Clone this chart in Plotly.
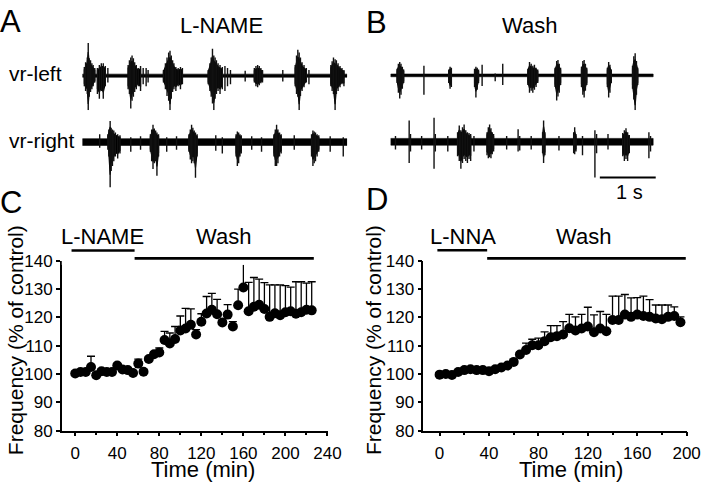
import plotly.graph_objects as go

# ---------------- Data: panel C (L-NAME) ----------------
c_time = [0, 5, 10, 15, 20, 25, 30, 35, 40, 45, 50, 55, 60, 65, 70, 75, 80, 85, 90, 95,
          100, 105, 110, 115, 120, 125, 130, 135, 140, 145, 150, 155, 160, 165, 170, 175,
          180, 185, 190, 195, 200, 205, 210, 215, 220, 225]
c_mean = [100.2, 100.7, 100.7, 102.5, 99.6, 101.0, 100.7, 100.7, 103.0, 101.6, 101.4, 100.4,
          103.7, 100.8, 105.3, 107.0, 107.6, 112.0, 110.8, 112.4, 115.4, 116.1, 117.4, 114.0,
          118.5, 121.4, 122.7, 121.1, 118.2, 121.0, 116.8, 124.3, 130.6, 122.2, 123.8, 124.5,
          123.0, 120.2, 121.5, 120.8, 121.8, 122.2, 121.3, 121.8, 122.7, 122.5]
c_sem = [0.8, 0.8, 0.8, 3.8, 0.8, 0.8, 0.8, 0.8, 0.8, 0.8, 0.8, 0.8,
         1.6, 0.8, 0.8, 0.8, 1.6, 3.1, 3.7, 4.4, 5.1, 7.1, 5.6, 1.7,
         2.8, 6.0, 5.8, 5.3, 0.9, 3.5, 1.7, 5.7, 9.1, 10.2, 10.3, 9.0,
         9.3, 11.3, 10.0, 10.7, 9.4, 8.5, 11.3, 10.8, 9.4, 10.1]
c_drug_period = [-3.5, 56.5]
c_wash_period = [56.5, 227]

# ---------------- Data: panel D (L-NNA) ----------------
d_time = [0, 5, 10, 15, 20, 25, 30, 35, 40, 45, 50, 55, 60, 65, 70, 75, 80, 85, 90, 95,
          100, 105, 110, 115, 120, 125, 130, 135, 140, 145, 150, 155, 160, 165, 170, 175,
          180, 185, 190, 195]
d_mean = [99.8, 100.0, 99.7, 100.7, 101.4, 101.7, 101.4, 101.4, 101.0, 101.7, 102.3, 103.0,
          104.3, 106.9, 108.5, 110.2, 110.2, 111.6, 113.0, 113.4, 114.0, 116.2, 115.4, 116.1,
          116.8, 114.8, 116.1, 115.1, 119.1, 119.1, 121.0, 120.2, 121.0, 120.5, 120.2, 119.6,
          119.4, 120.2, 120.5, 118.3]
d_sem = [0.6, 0.6, 0.6, 0.6, 0.6, 0.6, 0.6, 0.6, 0.6, 0.6, 0.6, 0.6,
         0.6, 0.8, 2.4, 2.1, 2.5, 3.3, 4.1, 3.7, 4.5, 4.9, 4.8, 5.0,
         6.8, 6.1, 6.0, 6.0, 8.4, 8.4, 7.1, 6.7, 6.0, 7.0, 6.1, 4.8,
         5.0, 4.2, 3.2, 1.9]
d_drug_period = [-1.8, 38.5]
d_wash_period = [38.5, 199.3]

# ---------------- Data: ventral-root recordings (time in ms, amplitude a.u.) ----------------
a_duration = 4739
a_left_t = [35, 58, 88, 105, 123, 146, 170, 193, 222, 269, 304, 339, 374, 410, 456,
            819, 842, 866, 889, 913, 936, 965, 1000, 1041, 1088, 1141, 1176,
            1451, 1486, 1515, 1544, 1568, 1591, 1615, 1638, 1673, 1714, 1755, 1790,
            2252, 2282, 2305, 2328, 2352, 2375, 2399, 2428, 2463, 2504, 2551, 2597, 2650,
            2913, 3077, 3106, 3136, 3165, 3194, 3223, 3586,
            3808, 3832, 3855, 3879, 3902, 3931, 3966, 4007, 4054,
            4446, 4469, 4493, 4522, 4545, 4575, 4610, 4645, 4680]
a_left_up = [9, 14, 19, 34, 18, 16, 13, 11, 8, 8, 11, 13, 13, 10, 8,
             11, 16, 19, 21, 18, 14, 11, 8, 10, 8, 8, 6,
             6, 13, 19, 24, 26, 21, 16, 13, 9, 8, 9, 8,
             6, 13, 19, 28, 21, 19, 16, 13, 11, 9, 10, 8, 6,
             5, 8, 10, 11, 10, 8, 6, 6,
             11, 21, 27, 24, 19, 14, 11, 8, 6,
             11, 15, 19, 17, 16, 13, 10, 8, 6]
a_left_dn = [-11, -16, -19, -41, -22, -17, -14, -11, -7, -19, -24, -16, -24, -11, -7,
             -14, -19, -34, -26, -22, -17, -14, -11, -16, -9, -11, -7,
             -7, -14, -21, -26, -41, -24, -17, -14, -16, -11, -14, -9,
             -9, -16, -22, -29, -39, -24, -19, -16, -19, -14, -16, -11, -9,
             -6, -7, -11, -12, -10, -8, -7, -6,
             -11, -19, -22, -41, -21, -16, -12, -7, -9,
             -11, -16, -19, -41, -19, -16, -12, -9, -11]

a_right_t = [456, 474, 497, 515, 538, 562, 591, 632, 673,
             1217, 1240, 1264, 1287, 1311, 1334, 1363,
             1907, 1931, 1954, 1977, 2001, 2024, 2053,
             2750, 2773, 2796, 2820, 2843,
             3428, 3452, 3475, 3499, 3528, 3557,
             4101, 4125, 4148, 4171, 4200, 4230,
             310, 866, 1041, 1509, 1685, 2387, 2504, 3030, 3206, 3791, 4434, 4668]
a_right_up = [8, 13, 22, 15, 13, 12, 10, 8, 7,
              8, 13, 18, 14, 12, 10, 8,
              8, 13, 18, 15, 12, 10, 8,
              8, 11, 10, 8, 7,
              8, 13, 18, 13, 10, 8,
              8, 12, 11, 10, 8, 7,
              8, 5, 6, 5, 6, 7, 5, 6, 5, 7, 6, 5]
a_right_dn = [-8, -15, -47, -30, -25, -20, -15, -17, -12,
              -10, -20, -28, -22, -20, -35, -15,
              -10, -18, -22, -20, -22, -37, -15,
              -15, -25, -22, -15, -12,
              -15, -25, -25, -22, -15, -12,
              -15, -25, -22, -20, -15, -10,
              -6, -10, -8, -10, -8, -9, -12, -8, -10, -8, -10, -15]

b_duration = 4698
b_left_t = [117, 140, 164, 187, 211, 234, 597, 1041, 1065, 1088, 1503, 1527, 1550, 1574,
            1638, 1872, 2007,
            2457, 2486, 2516, 2545, 2574, 2603, 2633,
            2943, 2972, 2995, 3018, 3042,
            3416, 3440, 3463, 3486, 3510,
            3879, 3902, 3925, 3949,
            4329, 4352, 4376, 4399, 4422]
b_left_up = [7, 12, 14, 12, 9, 6, 10, 6, 9, 8, 7, 9, 8, 6, 11, 2, 12,
             7, 14, 12, 10, 11, 8, 6,
             8, 15, 16, 12, 8,
             9, 15, 16, 12, 8,
             8, 14, 11, 6,
             10, 20, 23, 15, 8]
b_left_dn = [-8, -18, -24, -20, -14, -8, -20, -8, -14, -12, -12, -23, -15, -8, -11, -6, -10,
             -10, -18, -16, -18, -15, -12, -8,
             -12, -26, -22, -18, -10,
             -12, -20, -23, -16, -10,
             -12, -23, -18, -8,
             -14, -25, -43, -20, -10]

b_right_t = [88, 333, 357, 556, 778, 801, 1024,
             1199, 1229, 1258, 1287, 1316, 1346, 1375, 1404, 1433, 1492,
             1726, 1749, 1772, 1796, 1819, 1843,
             2077, 2282, 2311, 2516, 2720, 2738, 2761, 3013, 3276, 3294, 3317, 3434, 3656, 3686, 3890,
             4154, 4183, 4212, 4241, 4271, 4622, 4651]
b_right_up = [6, 22, 8, 6, 25, 8, 6,
              10, 17, 12, 15, 18, 12, 10, 9, 8, 6,
              10, 15, 18, 14, 10, 8,
              6, 13, 6, 6, 10, 22, 10, 6, 10, 15, 8, 6, 12, 8, 8,
              9, 12, 14, 10, 7, 10, 6]
b_right_dn = [-8, -22, -10, -8, -28, -10, -10,
              -15, -20, -28, -22, -18, -20, -22, -18, -20, -10,
              -14, -17, -16, -17, -13, -10,
              -8, -10, -9, -8, -12, -22, -14, -9, -12, -13, -10, -14, -37, -12, -8,
              -15, -20, -18, -20, -12, -17, -10]

noise_a_left = 1.6
noise_a_right = 3.5
noise_b_left = 1.4
noise_b_right = 3.5
scale_bar_ms = [3744, 4744]

# ---------------- Figure ----------------
W, H = 720, 502
FONT = "Liberation Sans, Arial, sans-serif"


def px(x):
    return x / W


def py(y):
    return 1 - y / H


fig = go.Figure()


def add_points(t, m, e, xa, ya):
    fig.add_trace(go.Scatter(
        x=t, y=m, mode="markers", xaxis=xa, yaxis=ya,
        marker=dict(size=10, color="black", line=dict(width=0)),
        error_y=dict(type="data", symmetric=False, array=e, arrayminus=[0] * len(e),
                     color="black", thickness=1.3, width=4),
        hoverinfo="skip"))


add_points(c_time, c_mean, c_sem, "x", "y")
add_points(d_time, d_mean, d_sem, "x2", "y2")


def add_bar(period, level, xa, ya, width):
    fig.add_trace(go.Scatter(x=period, y=[level, level], mode="lines", xaxis=xa, yaxis=ya,
                             line=dict(color="black", width=width), hoverinfo="skip"))


add_bar(c_drug_period, 0.58, "x3", "y3", 2.6)
add_bar(c_wash_period, 0.26, "x3", "y3", 2.8)
add_bar(d_drug_period, 0.59, "x4", "y4", 2.6)
add_bar(d_wash_period, 0.26, "x4", "y4", 2.8)


def add_recording(duration, noise, ts, ups, dns, xa, ya):
    # baseline noise band
    fig.add_trace(go.Scatter(x=[0, duration, duration, 0, 0],
                             y=[noise, noise, -noise, -noise, noise],
                             mode="lines", fill="toself", fillcolor="black",
                             line=dict(color="black", width=0.6),
                             xaxis=xa, yaxis=ya, hoverinfo="skip"))
    # dense burst cores: envelope of neighbouring spikes
    order = sorted(range(len(ts)), key=lambda i: ts[i])
    groups, cur = [], [order[0]]
    for i in order[1:]:
        if ts[i] - ts[cur[-1]] <= 45:
            cur.append(i)
        else:
            groups.append(cur)
            cur = [i]
    groups.append(cur)
    for g in groups:
        if len(g) < 3:
            continue
        gx = [ts[i] for i in g]
        gu = [ups[i] * 0.72 for i in g]
        gd = [dns[i] * 0.72 for i in g]
        fig.add_trace(go.Scatter(x=gx + gx[::-1] + [gx[0]], y=gu + gd[::-1] + [gu[0]],
                                 mode="lines", fill="toself", fillcolor="black",
                                 line=dict(color="black", width=1.2),
                                 xaxis=xa, yaxis=ya, hoverinfo="skip"))
    xs, ys = [], []
    for t, u, d in zip(ts, ups, dns):
        xs += [t, t, None]
        ys += [u, d, None]
    fig.add_trace(go.Scatter(x=xs, y=ys, mode="lines", line=dict(color="#111111", width=1.4),
                             xaxis=xa, yaxis=ya, hoverinfo="skip", connectgaps=False))


add_recording(a_duration, noise_a_left, a_left_t, a_left_up, a_left_dn, "x5", "y5")
add_recording(a_duration, noise_a_right, a_right_t, a_right_up, a_right_dn, "x5", "y6")
add_recording(b_duration, noise_b_left, b_left_t, b_left_up, b_left_dn, "x6", "y7")
add_recording(b_duration, noise_b_right, b_right_t, b_right_up, b_right_dn, "x6", "y8")

# 1 s scale bar
fig.add_trace(go.Scatter(x=scale_bar_ms, y=[-37, -37], mode="lines", xaxis="x6", yaxis="y8",
                         line=dict(color="black", width=2), hoverinfo="skip"))

axis_common = dict(showline=True, linecolor="black", linewidth=1.5, ticks="outside",
                   ticklen=4, tickwidth=1.5, tickcolor="black", showgrid=False, zeroline=False,
                   tickfont=dict(family=FONT, size=17, color="black"))
minor_x = dict(ticks="outside", ticklen=3, tickwidth=1.5, tickcolor="black", dtick=20,
               tick0=0, showgrid=False)
hidden = dict(visible=False, showgrid=False, zeroline=False, fixedrange=True)

fig.update_layout(
    width=W, height=H, autosize=False,
    margin=dict(l=0, r=0, t=0, b=0, pad=0),
    paper_bgcolor="white", plot_bgcolor="white", showlegend=False,
    font=dict(family=FONT, color="black"),
    xaxis=dict(axis_common, domain=[px(63), px(334.5)], range=[-12.8, 240.5],
               tickmode="linear", tick0=0, dtick=40, minor=minor_x, anchor="y",
               ticklabelstandoff=2),
    yaxis=dict(axis_common, domain=[py(438.3), py(261.7)], range=[80, 140],
               tickmode="linear", tick0=80, dtick=10, anchor="x"),
    xaxis2=dict(axis_common, domain=[px(431.7), px(700.5)], range=[-13.2, 200.2],
                tickmode="linear", tick0=0, dtick=40, minor=minor_x, anchor="y2",
                ticklabelstandoff=2),
    yaxis2=dict(axis_common, domain=[py(438.3), py(261.7)], range=[80, 140],
                tickmode="linear", tick0=80, dtick=10, anchor="x2"),
    xaxis3=dict(hidden, domain=[px(63), px(334.5)], range=[-12.8, 240.5], anchor="y3"),
    yaxis3=dict(hidden, domain=[py(266), py(240)], range=[0, 1], anchor="x3"),
    xaxis4=dict(hidden, domain=[px(431.7), px(700.5)], range=[-13.2, 200.2], anchor="y4"),
    yaxis4=dict(hidden, domain=[py(266), py(240)], range=[0, 1], anchor="x4"),
    xaxis5=dict(hidden, domain=[px(84), px(354)], range=[0, 4737], anchor="y5"),
    yaxis5=dict(hidden, domain=[py(110), py(30)], range=[-40.7, 39.3], anchor="x5"),
    yaxis6=dict(hidden, domain=[py(190), py(105)], range=[-51.7, 33.3], anchor="x5"),
    xaxis6=dict(hidden, domain=[px(398.3), px(675)], range=[0, 4854], anchor="y7"),
    yaxis7=dict(hidden, domain=[py(110), py(30)], range=[-41, 39], anchor="x6"),
    yaxis8=dict(hidden, domain=[py(190), py(105)], range=[-52, 33], anchor="x6"),
)


def label(text, x, y, size, xanchor="center", angle=0, xref="paper"):
    fig.add_annotation(text=text, x=x, y=py(y), xref=xref, yref="paper",
                       xanchor=xanchor, yanchor="middle", showarrow=False,
                       textangle=angle, font=dict(family=FONT, size=size, color="black"))


# panel letters
label("A", px(11), 13, 31)
label("B", px(384), 14, 31)
label("C", px(11), 201, 31)
label("D", px(384), 198, 31)
# recording labels
label("L-NAME", px(226), 17, 22)
label("Wash", px(540), 17, 22)
label("vr-left", px(7), 67, 21, xanchor="left")
label("vr-right", px(7), 137, 21, xanchor="left")
label("1 s", px(642), 190, 20)
# treatment labels
label("L-NAME", 26.4, 236, 22, xref="x3")
label("Wash", 141, 236, 22, xref="x3")
label("L-NNA", 18.6, 236, 22, xref="x4")
label("Wash", 116.6, 236, 22, xref="x4")
# axis titles
label("Time (min)", px(207.5), 479, 22)
label("Time (min)", px(582.5), 479, 22)
label("Frequency (% of control)", px(16.5), 344, 21, angle=-90)
label("Frequency (% of control)", px(381.5), 344, 21, angle=-90)

fig.write_html("out.html", config={"displayModeBar": False},
               post_script="document.body.style.margin='0px';document.body.style.padding='0px';")
